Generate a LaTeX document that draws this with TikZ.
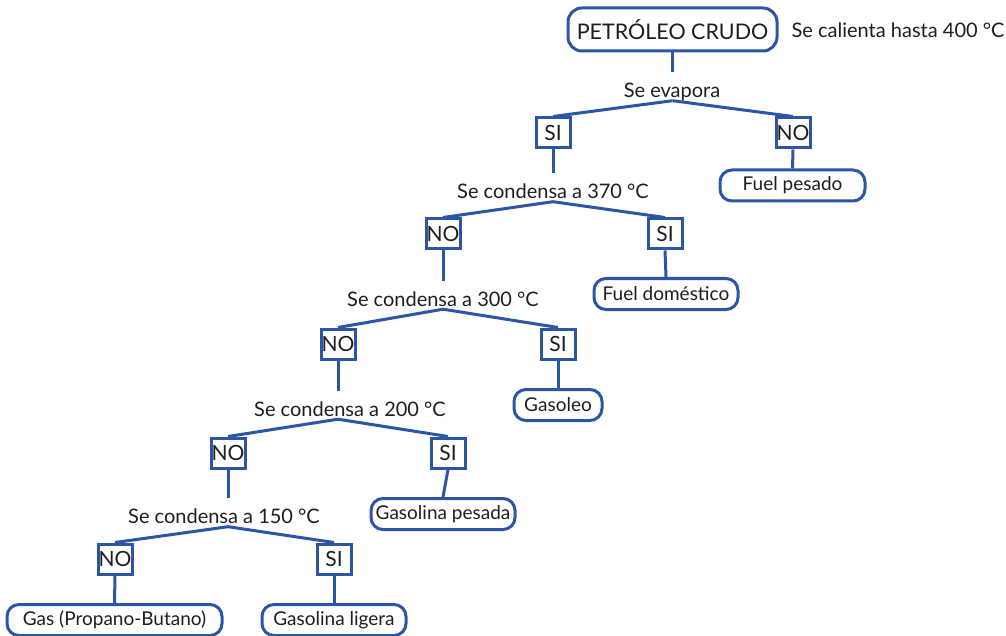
\documentclass[tikz,border=0pt]{standalone}
\usepackage{fontspec}
\setmainfont{Lato}
\definecolor{azul}{RGB}{43,85,165}
\definecolor{tinta}{RGB}{30,30,30}

\begin{document}
\begin{tikzpicture}[x=1pt, y=-1pt,
    question/.style={inner sep=0pt, text height=25pt, text depth=3pt, text=tinta, font=\fontsize{20}{22}\selectfont},
    choice/.style={draw=azul, line width=3pt, inner sep=0pt, minimum width=34pt, minimum height=30pt, text=tinta, font=\fontsize{21}{22}\selectfont},
    result/.style={draw=azul, line width=3pt, rounded corners=12pt, inner sep=0pt, minimum height=31pt, text=tinta, font=\fontsize{19}{22}\selectfont}]
\useasboundingbox (0,0) rectangle (1006,636);
% top of the tree
\node[result, rounded corners=14pt, minimum width=209pt, minimum height=43pt, font=\fontsize{21.5}{24}\selectfont] (crudo) at (672.5,29.5) {PETRÓLEO CRUDO};
\node[question] (calienta) at (898,27) {Se calienta hasta 400 °C};
% questions
\node[question] (q1) at (672,86.5) {Se evapora};
\node[question] (q2) at (553,187.5) {Se condensa a 370 °C};
\node[question] (q3) at (443,295) {Se condensa a 300 °C};
\node[question] (q4) at (350,405) {Se condensa a 200 °C};
\node[question] (q5) at (224,512.5) {Se condensa a 150 °C};
% answers
\node[choice] (si1) at (553,133) {SI};
\node[choice] (no1) at (793,133) {NO};
\node[choice] (no2) at (443,234) {NO};
\node[choice] (si2) at (665,234) {SI};
\node[choice] (no3) at (338,344) {NO};
\node[choice] (si3) at (558,344) {SI};
\node[choice] (no4) at (228,453) {NO};
\node[choice] (si4) at (448,453) {SI};
\node[choice] (no5) at (115,559) {NO};
\node[choice] (si5) at (334,559) {SI};
% products
\node[result, minimum width=145pt] (pesado) at (792.5,185.5) {Fuel pesado};
\node[result, minimum width=144pt] (domestico) at (666,294) {Fuel doméstico};
\node[result, minimum width=88pt] (gasoleo) at (558,405) {Gasoleo};
\node[result, minimum width=144pt] (gpesada) at (443,514) {Gasolina pesada};
\node[result, minimum width=215pt] (gas) at (114.5,620) {Gas (Propano-Butano)};
\node[result, minimum width=144pt] (gligera) at (334,620) {Gasolina ligera};
\begin{scope}[every edge/.style={draw=azul, line width=3pt}]
    \path (crudo.south) edge (crudo.south |- q1.north);
    \path (q1.south -| crudo) edge (si1.north);
    \path (q1.south -| crudo) edge (no1.north);
    \path (no1.south) edge (pesado.north);
    \path (si1.south) edge (si1.south |- q2.north);
    \path (q2.south -| si1) edge (no2.north);
    \path (q2.south -| si1) edge (si2.north);
    \path (si2.south) edge (domestico.north);
    \path (no2.south) edge (no2.south |- q3.north);
    \path (q3.south -| no2) edge (no3.north);
    \path (q3.south -| no2) edge (si3.north);
    \path (si3.south) edge (gasoleo.north);
    \path (no3.south) edge (no3.south |- q4.north);
    \path (q4.south -| no3) edge (no4.north);
    \path (q4.south -| no3) edge (si4.north);
    \path (si4.south) edge (gpesada.north);
    \path (no4.south) edge (no4.south |- q5.north);
    \path (q5.south -| no4) edge (no5.north);
    \path (q5.south -| no4) edge (si5.north);
    \path (no5.south) edge (gas.north);
    \path (si5.south) edge (gligera.north);
\end{scope}
\end{tikzpicture}
\end{document}
